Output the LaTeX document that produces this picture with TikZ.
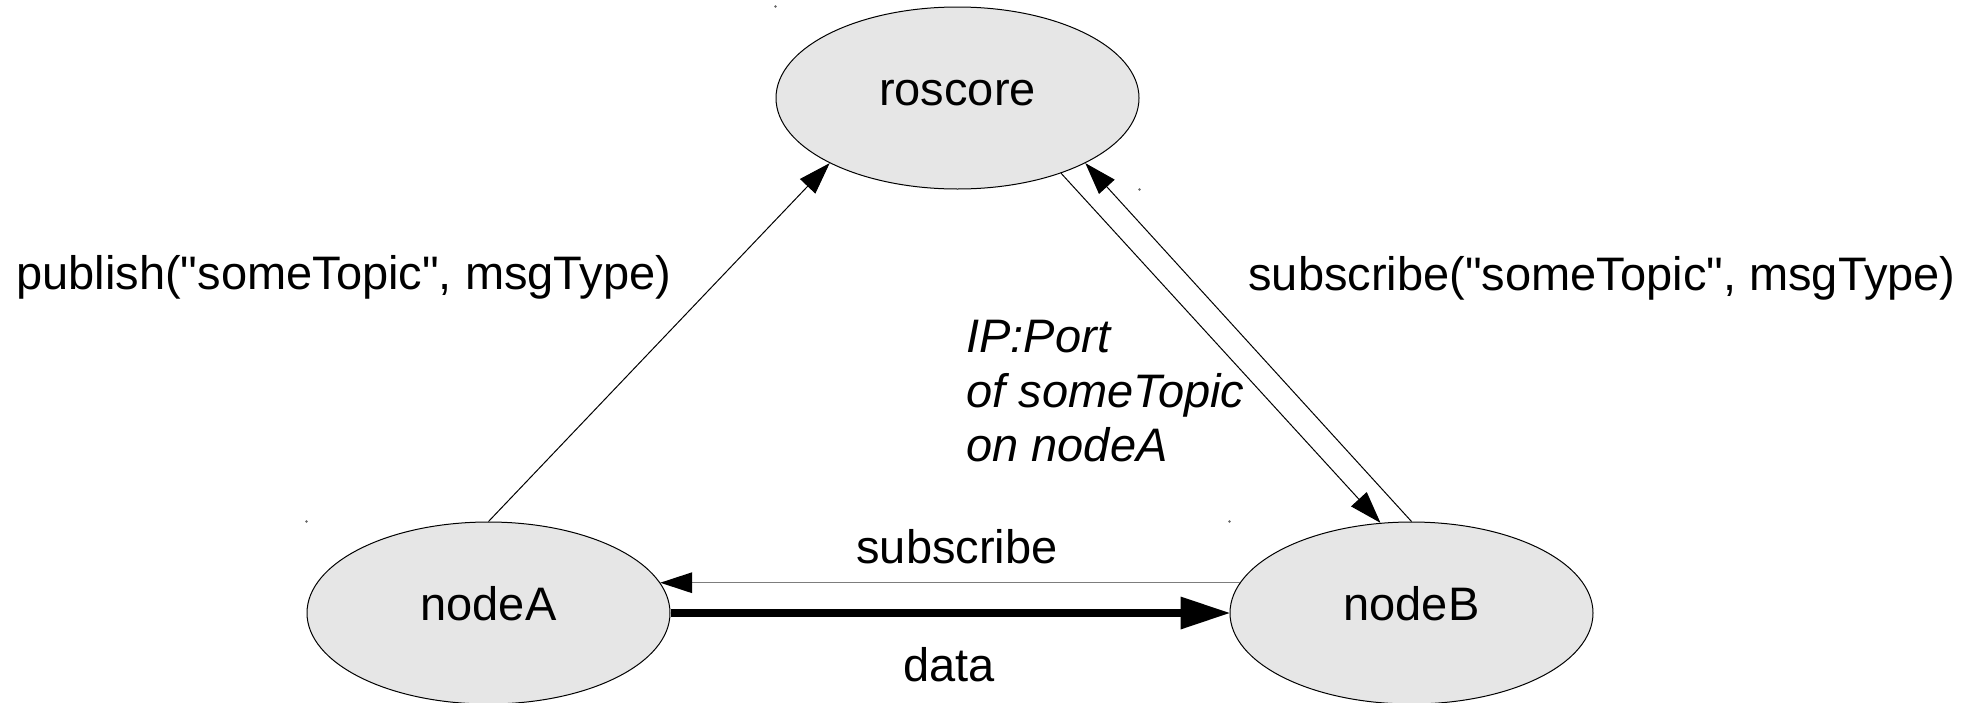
\documentclass[tikz,border=0pt]{standalone}
\usepackage{fontspec}
\setmainfont{Liberation Sans}[Ligatures=TeXOff]
\usetikzlibrary{arrows.meta,shapes.geometric}

\definecolor{nodefill}{RGB}{230,230,230}
\definecolor{wiregray}{RGB}{125,125,125}

\tikzset{
  rosnode/.style={ellipse, draw=black, line width=0.5pt, fill=nodefill,
    minimum width=181.5pt, minimum height=91pt, inner sep=0pt,
    text height=0.7em, text depth=0pt},
  labeltext/.style={inner sep=0pt},
  thinarrow/.style={line width=0.5pt, -{Triangle[length=16pt,width=10.5pt]}},
  thickarrow/.style={line width=4pt, -{Triangle[length=24.5pt,width=16.5pt,line width=0pt]}},
  cornerdot/.style={fill=black!60}
}

\begin{document}
\begin{tikzpicture}[x=0.5pt, y=-0.5pt, font=\fontsize{23.5}{27.25}\selectfont]
  \path[use as bounding box] (0,0) rectangle (1981,702);

  % the three ROS processes
  \node[rosnode] (roscore) at (957.5,98)   {roscore};
  \node[rosnode] (nodeA)   at (488.5,613)  {nodeA};
  \node[rosnode] (nodeB)   at (1411.5,613) {nodeB};

  % small handle marks at the ellipse frame corners
  \fill[cornerdot] (roscore.west |- roscore.north) circle (0.7pt);
  \fill[cornerdot] (roscore.east |- roscore.south) circle (0.7pt);
  \fill[cornerdot] (nodeA.west |- nodeA.north) circle (0.7pt);
  \fill[cornerdot] (nodeB.west |- nodeB.north) circle (0.7pt);

  % registration with the master
  \draw[thinarrow] (nodeA.north) -- (roscore.207);
  \draw[thinarrow] (nodeB.north) -- (roscore.333);
  \draw[thinarrow] (roscore.324) -- (nodeB.109);

  % peer-to-peer connection
  \draw[line width=0.5pt, draw=wiregray, -{Triangle[length=16pt,width=10.5pt,line width=0pt,fill=black]}]
    (nodeB.170) -- (nodeA.10);
  \draw[thickarrow] (nodeA.east) -- (nodeB.west);

  % labels
  \node[labeltext, anchor=base west] (pubcall) at (16,289)
    {publish("someTopic", msgType)};
  \node[labeltext, anchor=base west] (subcall) at (1248,290)
    {subscribe("someTopic", msgType)};
  \node[labeltext, anchor=north west, align=left,
        font=\fontsize{23.5}{27.25}\selectfont\itshape] (ipport) at (966,320)
    {IP:Port\\of someTopic\\on nodeA};
  \node[labeltext, anchor=base] (sublabel) at (957,563) {subscribe};
  \node[labeltext, anchor=base] (datalabel) at (949,681) {data};
\end{tikzpicture}
\end{document}
